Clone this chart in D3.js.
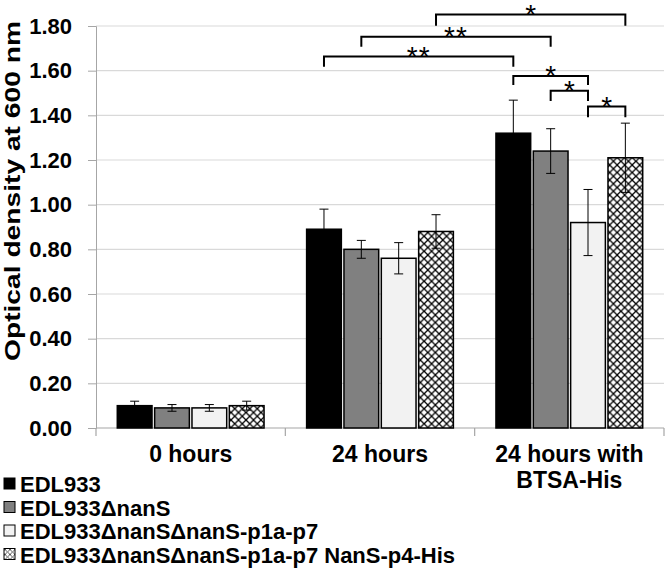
<!DOCTYPE html>
<html><head><meta charset="utf-8">
<script src="https://cdn.jsdelivr.net/npm/d3@7"></script>
<style>body{margin:0;background:#fff}svg{display:block}text{font-family:"Liberation Sans",Arial,sans-serif}</style>
</head><body><svg id="c" width="666" height="575"></svg>
<script>
const categories = ["0 hours", "24 hours", "24 hours with\nBTSA-His"];
const series = ["EDL933", "EDL933\u0394nanS", "EDL933\u0394nanS\u0394nanS-p1a-p7", "EDL933\u0394nanS\u0394nanS-p1a-p7 NanS-p4-His"];
const values = [
  [0.10, 0.09, 0.09, 0.10],
  [0.89, 0.80, 0.76, 0.88],
  [1.32, 1.24, 0.92, 1.21]
];
const errors = [
  [0.02, 0.015, 0.015, 0.02],
  [0.09, 0.04, 0.07, 0.075],
  [0.148, 0.10, 0.148, 0.155]
];
const yTicks = [0, 0.2, 0.4, 0.6, 0.8, 1.0, 1.2, 1.4, 1.6, 1.8];
// significance brackets: [cat, series] -> [cat, series], level, leg ends (data units), label
const brackets = [
  {a:[1,3], b:[2,3], level:1.851, la:1.801, lb:1.801, label:"*"},
  {a:[1,1], b:[2,1], level:1.752, la:1.707, lb:1.707, label:"**"},
  {a:[1,0], b:[2,0], level:1.663, la:1.618, lb:1.618, label:"**"},
  {a:[2,0], b:[2,2], level:1.576, la:1.536, lb:1.536, label:"*"},
  {a:[2,1], b:[2,2], level:1.510, la:1.464, lb:1.464, label:"*"},
  {a:[2,2], b:[2,3], level:1.439, la:1.391, lb:1.391, label:"*"}
];

const svg = d3.select("#c");
const defs = svg.append("defs");
const pat = defs.append("pattern").attr("id","hatch").attr("patternUnits","userSpaceOnUse")
  .attr("width",7.5).attr("height",7.5);
pat.append("rect").attr("width",7.5).attr("height",7.5).attr("fill","#fff");
pat.append("path").attr("d","M0,0L7.5,7.5M7.5,0L0,7.5").attr("stroke","#000").attr("stroke-width",1.3);
const pat2 = defs.append("pattern").attr("id","hatchS").attr("patternUnits","userSpaceOnUse")
  .attr("width",5).attr("height",5);
pat2.append("rect").attr("width",5).attr("height",5).attr("fill","#fff");
pat2.append("path").attr("d","M0,0L5,5M5,0L0,5").attr("stroke","#333").attr("stroke-width",0.8);
const fills = ["#000000", "#808080", "#f2f2f2", "url(#hatch)"];
const legendFills = ["#000000", "#808080", "#f2f2f2", "url(#hatchS)"];

const L = 96, R = 664, T = 26, B = 428;
const y = d3.scaleLinear().domain([0, 1.8]).range([B, T]);
const x0 = d3.scaleBand().domain(d3.range(categories.length)).range([L, R]).padding(0);
const x1 = d3.scaleBand().domain(d3.range(series.length)).range([0, x0.bandwidth()])
  .paddingInner(0.07).paddingOuter(0.57);

// gridlines
svg.append("g").selectAll("line").data(yTicks.filter(d => d > 0)).join("line")
  .attr("x1", L).attr("x2", R).attr("y1", d => y(d)).attr("y2", d => y(d))
  .attr("stroke", "#d9d9d9").attr("stroke-width", 1.2);

// y axis
const yAxis = svg.append("g").attr("transform", `translate(${L},0)`)
  .call(d3.axisLeft(y).tickValues(yTicks).tickFormat(d3.format(".2f")).tickSize(8).tickPadding(16));
yAxis.select(".domain").attr("stroke", "#a6a6a6");
yAxis.selectAll(".tick line").attr("stroke", "#a6a6a6");
yAxis.selectAll("text").attr("font-size", 22).attr("font-weight", "bold").attr("fill", "#000")
  .attr("font-family", '"Liberation Sans",Arial,sans-serif');

// x axis
const xAxisG = svg.append("g");
xAxisG.append("line").attr("x1", L).attr("x2", R).attr("y1", B).attr("y2", B).attr("stroke", "#a6a6a6").attr("stroke-width", 1.2);
xAxisG.selectAll("line.tk").data(d3.range(categories.length + 1)).join("line").attr("class", "tk")
  .attr("x1", d => L + d * x0.bandwidth()).attr("x2", d => L + d * x0.bandwidth())
  .attr("y1", B).attr("y2", B + 8).attr("stroke", "#a6a6a6").attr("stroke-width", 1.2);
const catLab = xAxisG.selectAll("text").data(categories).join("text")
  .attr("x", (d, i) => x0(i) + x0.bandwidth() / 2).attr("y", 462)
  .attr("text-anchor", "middle").attr("font-size", 23).attr("font-weight", "bold");
catLab.each(function(d) {
  const lines = d.split("\n");
  d3.select(this).selectAll("tspan").data(lines).join("tspan")
    .attr("x", d3.select(this).attr("x")).attr("dy", (l, j) => j ? 26 : 0).text(l => l);
});

// y title
svg.append("text").attr("transform", "translate(20,191) rotate(-90)")
  .attr("text-anchor", "middle").attr("font-size", 22).attr("font-weight", "bold")
  .attr("textLength", 340).attr("lengthAdjust", "spacingAndGlyphs")
  .text("Optical density at 600 nm");

// bars
const groups = svg.append("g").selectAll("g").data(values).join("g")
  .attr("transform", (d, i) => `translate(${x0(i)},0)`);
groups.selectAll("rect").data(d => d).join("rect")
  .attr("x", (d, j) => x1(j)).attr("width", x1.bandwidth())
  .attr("y", d => y(d)).attr("height", d => B - y(d))
  .attr("fill", (d, j) => fills[j]).attr("stroke", "#000").attr("stroke-width", 1.5);

// error bars
groups.each(function(vals, i) {
  const g = d3.select(this);
  vals.forEach((v, j) => {
    const cx = x1(j) + x1.bandwidth() / 2, e = errors[i][j];
    g.append("line").attr("x1", cx).attr("x2", cx).attr("y1", y(v - e)).attr("y2", y(v + e)).attr("stroke", "#000").attr("stroke-width", 1);
    [v - e, v + e].forEach(t => g.append("line").attr("x1", cx - 4.5).attr("x2", cx + 4.5)
      .attr("y1", y(t)).attr("y2", y(t)).attr("stroke", "#000").attr("stroke-width", 1));
  });
});

// brackets
const cxOf = p => x0(p[0]) + x1(p[1]) + x1.bandwidth() / 2;
const br = svg.append("g");
brackets.forEach(b => {
  const xa = cxOf(b.a), xb = cxOf(b.b);
  br.append("path").attr("d", `M${xa},${y(b.la)}V${y(b.level)}H${xb}V${y(b.lb)}`)
    .attr("fill", "none").attr("stroke", "#000").attr("stroke-width", 2);
  br.append("text").attr("x", (xa + xb) / 2).attr("y", y(b.level) + 9)
    .attr("text-anchor", "middle").attr("font-size", 28).attr("letter-spacing", b.label.length > 1 ? 1 : 0)
    .text(b.label);
});

// legend
const lg = svg.append("g").selectAll("g").data(series).join("g")
  .attr("transform", (d, i) => `translate(0,${484 + i * 23.5})`);
lg.append("rect").attr("x", 4).attr("y", -6).attr("width", 11).attr("height", 11)
  .attr("fill", (d, i) => legendFills[i]).attr("stroke", "#000").attr("stroke-width", 1);
lg.append("text").attr("x", 20).attr("y", 8).attr("font-size", 22).attr("font-weight", "bold").text(d => d);
</script></body></html>
